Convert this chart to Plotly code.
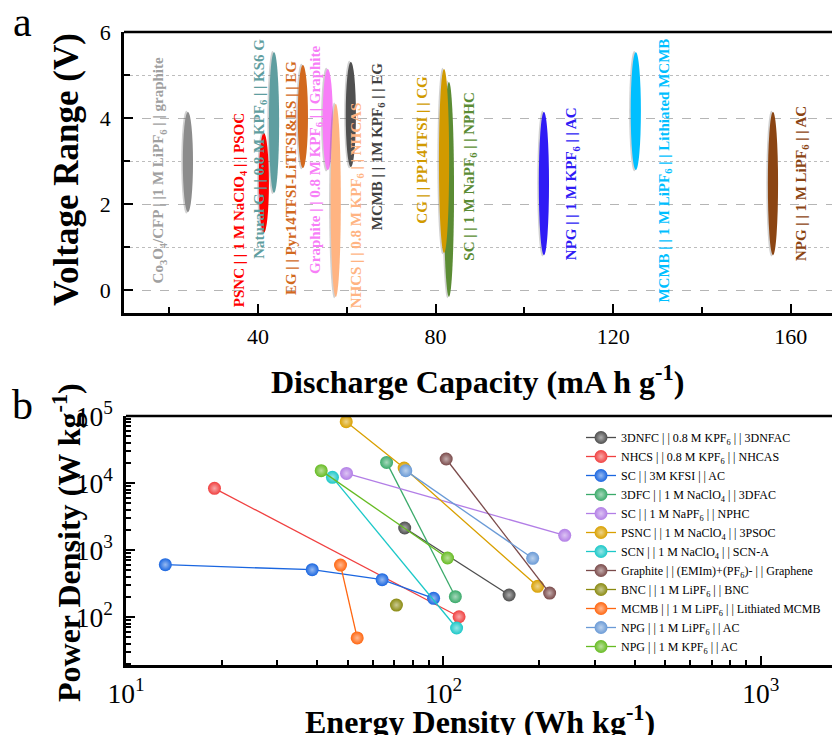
import plotly.graph_objects as go

# ---------------- Panel a data ----------------
a_names = [
    "Co<sub>3</sub>O<sub>4</sub>/CFP | |1 M LiPF<sub>6</sub> | | graphite",
    "Natural G | | 0.8 M KPF<sub>6</sub> | | KS6 G",
    "PSNC | | 1 M NaClO<sub>4</sub> | | PSOC",
    "EG | | Pyr14TFSI-LiTFSI&amp;ES | | EG",
    "Graphite | | 0.8 M KPF<sub>6</sub> | | Graphite",
    "NHCS | | 0.8 M KPF<sub>6</sub> | | NHCAS",
    "MCMB | | 1M KPF<sub>6</sub> | | EG",
    "SC | | 1 M NaPF<sub>6</sub> | | NPHC",
    "CG | | PP14TFSI | | CG",
    "NPG | | 1 M KPF<sub>6</sub> | | AC",
    "MCMB | | 1 M LiPF<sub>6</sub> | | Lithiated MCMB",
    "NPG | | 1 M LiPF<sub>6</sub> | | AC",
]
a_capacity = [24.2, 43.6, 41.3, 50.1, 55.7, 57.5, 60.9, 83.0, 81.9, 104.4, 125.1, 156.0]
a_v_low = [1.81, 2.26, 1.33, 2.84, 2.79, -0.16, 2.86, -0.16, 0.86, 0.81, 2.79, 0.81]
a_v_high = [4.14, 5.53, 3.65, 5.23, 5.14, 4.33, 5.30, 4.84, 5.14, 4.14, 5.53, 4.14]

# ---------------- Panel b data ----------------
b_names = [
    "3DNFC | | 0.8 M KPF<sub>6</sub> | | 3DNFAC",
    "NHCS | | 0.8 M KPF<sub>6</sub> | | NHCAS",
    "SC | | 3M KFSI | | AC",
    "3DFC | | 1 M NaClO<sub>4</sub> | | 3DFAC",
    "SC | | 1 M NaPF<sub>6</sub> | | NPHC",
    "PSNC | | 1 M NaClO<sub>4</sub> | | 3PSOC",
    "SCN | | 1 M NaClO<sub>4</sub> | | SCN-A",
    "Graphite | | (EMIm)+(PF<sub>6</sub>)- | | Graphene",
    "BNC | | 1 M LiPF<sub>6</sub> | | BNC",
    "MCMB | | 1 M LiPF<sub>6</sub> | | Lithiated MCMB",
    "NPG | | 1 M LiPF<sub>6</sub> | | AC",
    "NPG | | 1 M KPF<sub>6</sub> | | AC",
]
b_energy = [
    [75.5, 161],
    [19.0, 112],
    [13.3, 38.6, 64.1, 93.1],
    [66.2, 109],
    [49.5, 241],
    [49.4, 75.2, 198],
    [44.7, 110],
    [102, 216],
    [71.1],
    [47.4, 53.5],
    [76.1, 191],
    [41.2, 103],
]
b_power = [
    [2130, 213],
    [8320, 101],
    [604, 508, 361, 190],
    [20300, 201],
    [13900, 1655],
    [82200, 16700, 287],
    [12150, 68.6],
    [22800, 228],
    [151],
    [597, 48.7],
    [15300, 752],
    [15300, 760],
]

# ---------------- styles ----------------
FONT = "Liberation Serif, Times New Roman, serif"
a_fill = ["#8c8c8c", "#5f9ea0", "#ff0000", "#d2691e", "#f77ef7", "#ffb482",
          "#505050", "#5b8c34", "#d19a00", "#2f1cf5", "#00bfff", "#8b4513"]
a_text = ["#a0a0a0", "#5f9ea0", "#ff0000", "#d2691e", "#f77ef7", "#ffb482",
          "#404040", "#5b8c34", "#d19a00", "#2f1cf5", "#00bfff", "#8b4513"]
a_label_pos = [(17.9, 2.78), (40.4, 3.28), (36.1, 1.85), (47.4, 2.60), (53.0, 3.02),
               (62.3, 1.97), (67.0, 3.34), (87.7, 2.63), (76.9, 3.26), (110.9, 2.48),
               (131.6, 2.77), (162.7, 2.48)]
HALF_W = 1.15

b_colors = ["#4d4d4d", "#f04040", "#1a66e0", "#3aaa6a", "#b27ee6", "#d9a000",
            "#1cc8c8", "#7a4a4a", "#8a8a10", "#ff6610", "#6a9ad6", "#66bb22"]


def lighten(hexc, f=0.6):
    h = hexc.lstrip("#")
    r, g, b = int(h[0:2], 16), int(h[2:4], 16), int(h[4:6], 16)
    r = int(r + (255 - r) * f)
    g = int(g + (255 - g) * f)
    b = int(b + (255 - b) * f)
    return f"#{r:02x}{g:02x}{b:02x}"


W, H = 832, 735


def px_x(p):
    return p / W


def px_y(p):
    return 1 - p / H


fig = go.Figure()

# invisible anchor trace for panel a (centers of the ranges)
fig.add_trace(go.Scatter(
    x=a_capacity, y=[(l + h) / 2 for l, h in zip(a_v_low, a_v_high)],
    mode="markers", marker=dict(opacity=0), showlegend=False, hoverinfo="skip",
    xaxis="x", yaxis="y"))

shapes = []
for c, lo, hi, col in zip(a_capacity, a_v_low, a_v_high, a_fill):
    shapes.append(dict(type="circle", xref="x", yref="y",
                       x0=c - HALF_W - 0.35, x1=c + HALF_W - 0.35, y0=lo - 0.03, y1=hi + 0.03,
                       fillcolor="rgba(90,90,90,0.28)", line=dict(width=0), layer="above"))
    shapes.append(dict(type="circle", xref="x", yref="y",
                       x0=c - HALF_W, x1=c + HALF_W, y0=lo, y1=hi,
                       fillcolor=col, line=dict(width=0), layer="above"))

# top spines
shapes.append(dict(type="line", xref="x domain", yref="y domain", x0=0, x1=1, y0=1, y1=1,
                   line=dict(color="black", width=2.5)))
shapes.append(dict(type="line", xref="x2 domain", yref="y2 domain", x0=0, x1=1, y0=1, y1=1,
                   line=dict(color="black", width=2.5)))

annotations = []
for name, (lx, ly), tc in zip(a_names, a_label_pos, a_text):
    annotations.append(dict(x=lx, y=ly, xref="x", yref="y", text=name, textangle=-90,
                            showarrow=False, xanchor="center", yanchor="middle",
                            font=dict(family=FONT, size=15, color=tc, weight="bold")))

# panel b traces
for name, e, p, col in zip(b_names, b_energy, b_power, b_colors):
    fig.add_trace(go.Scatter(
        x=e, y=p, name=name, mode="lines+markers", xaxis="x2", yaxis="y2",
        line=dict(color=col, width=1.3),
        marker=dict(size=13, color=col, line=dict(width=0),
                    gradient=dict(type="radial", color=lighten(col, 0.55)))))

# axis titles and panel letters
title_font = dict(family=FONT, size=32, color="black", weight="bold")


def pa(x, y, text, font, angle=0):
    return dict(x=px_x(x), y=px_y(y), xref="paper", yref="paper", text=text,
                textangle=angle, showarrow=False, xanchor="center", yanchor="middle",
                font=font)


annotations += [
    pa(66, 170, "Voltage Range (V)", dict(family=FONT, size=35, color="black", weight="bold"), -90),
    pa(478, 380, "Discharge Capacity (mA h g<sup>-1</sup>)", title_font),
    pa(67, 543, "Power Density (W kg<sup>-1</sup>)", title_font, -90),
    pa(480, 720, "Energy Density (Wh kg<sup>-1</sup>)", title_font),
    pa(22, 22, "a", dict(family=FONT, size=42, color="black")),
    pa(22, 405, "b", dict(family=FONT, size=42, color="black")),
]

tick_font = dict(family=FONT, size=22, color="black")
axis_common = dict(showline=True, linecolor="black", linewidth=2.5, ticks="inside",
                   tickcolor="black", tickwidth=2.2, ticklen=9, tickfont=tick_font,
                   zeroline=False, mirror=False, automargin=False)

fig.update_layout(
    width=W, height=H, margin=dict(l=0, r=0, t=0, b=0, autoexpand=False),
    paper_bgcolor="white", plot_bgcolor="white",
    font=dict(family=FONT),
    xaxis=dict(domain=[124 / W, 1], range=[9.8, 169.3], dtick=40, tick0=0,
               showgrid=False, anchor="y",
               minor=dict(dtick=20, ticks="inside", ticklen=6, tickwidth=2, tickcolor="black"),
               ticklabelstandoff=2, **axis_common),
    yaxis=dict(domain=[1 - 313 / H, 1 - 32 / H], range=[-0.535, 6], dtick=2, tick0=0,
               showgrid=True, gridcolor="#b5b5b5", gridwidth=1, griddash="dash", anchor="x",
               minor=dict(dtick=1, ticks="inside", ticklen=6, tickwidth=2, tickcolor="black",
                          showgrid=True, gridcolor="#bdbdbd", gridwidth=1, griddash="dot"),
               ticklabelstandoff=6, **axis_common),
    xaxis2=dict(domain=[126 / W, 1], type="log", range=[1, 3.224], dtick=1,
                exponentformat="power", labelalias={"10": "10<sup>1</sup>"},
                showgrid=False, anchor="y2",
                minor=dict(dtick="D1", ticks="inside", ticklen=5, tickwidth=2, tickcolor="black"),
                ticklabelstandoff=3, **axis_common),
    yaxis2=dict(domain=[1 - 665 / H, 1 - 416 / H], type="log", range=[1.284, 5], dtick=1,
                exponentformat="power", showgrid=False, anchor="x2",
                minor=dict(dtick="D1", ticks="inside", ticklen=5, tickwidth=2, tickcolor="black"),
                ticklabelstandoff=6, **axis_common),
    legend=dict(x=581 / W, y=1 - 423 / H, xanchor="left", yanchor="top",
                bgcolor="rgba(0,0,0,0)", borderwidth=0,
                font=dict(family=FONT, size=12, color="black"),
                itemwidth=30, tracegroupgap=0),
    shapes=shapes, annotations=annotations,
)

fig.write_html("out.html", config={"displayModeBar": False},
               post_script="document.body.style.margin='0';document.body.style.overflow='hidden';")
